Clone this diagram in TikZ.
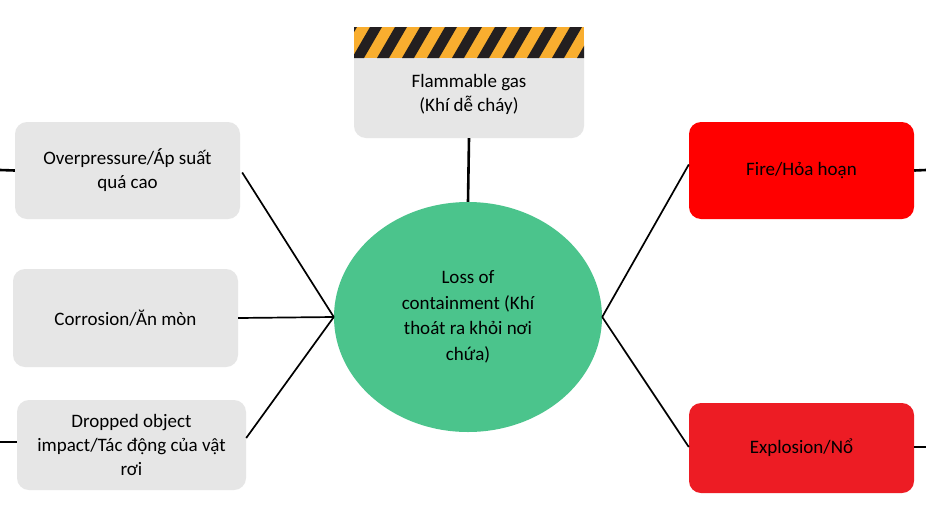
\documentclass[tikz,border=0pt]{standalone}
\usepackage{fontspec}
\setmainfont{Carlito}
\usetikzlibrary{shapes.geometric}
\definecolor{boxgray}{HTML}{E6E6E6}
\definecolor{ellgreen}{HTML}{4BC48C}
\definecolor{firered}{HTML}{FF0000}
\definecolor{exred}{HTML}{ED1C24}
\definecolor{hazorange}{HTML}{F9AE2F}
\definecolor{hazblack}{HTML}{231F20}
\begin{document}
\begin{tikzpicture}[x=1pt,y=-1pt,
  txt/.style={font=\fontsize{19}{24}\selectfont, align=center, text=black},
  graybox/.style={txt, fill=boxgray, rounded corners=12pt, draw=none, inner sep=0pt},
  redbox/.style={txt, rounded corners=12pt, draw=none, inner sep=0pt},
  conn/.style={draw=black, line width=1.7pt},
  thick conn/.style={draw=black, line width=2.6pt}]
\useasboundingbox (0,0) rectangle (926,517);
\fill[white] (0,0) rectangle (926,517);

% nodes
\node[graybox, minimum width=230pt, minimum height=110pt] (flam) at (469,83) {};
\begin{scope}
  \clip (354,27) rectangle (584,58);
  \fill[hazorange] (354,27) rectangle (584,58);
  \foreach \i in {-1,...,10}{
    \fill[hazblack] ({370+\i*25},27) -- ({382+\i*25},27) -- ({364+\i*25},58) -- ({352+\i*25},58) -- cycle;
  }
\end{scope}
\node[txt] (flamtxt) at (469,94) {Flammable gas\\(Khí dễ cháy)};

\node[ellipse, fill=ellgreen, minimum width=268pt, minimum height=230pt, inner sep=0pt] (loss) at (468,317) {};
\node[txt, font=\fontsize{19}{25.5}\selectfont] (losstxt) at (468,317) {Loss of\\containment (Khí\\thoát ra khỏi nơi\\chứa)};

\node[graybox, minimum width=225pt, minimum height=97pt] (over) at (127.5,170.5) {Overpressure/Áp suất\\quá cao};
\node[graybox, minimum width=225pt, minimum height=98pt] (corr) at (125.5,318) {Corrosion/Ăn mòn};
\node[graybox, minimum width=229pt, minimum height=90pt] (drop) at (131.5,445) {Dropped object\\impact/Tác động của vật\\rơi};
\node[redbox, fill=firered, minimum width=225pt, minimum height=97pt] (fire) at (801.5,170.5) {Fire/Hỏa hoạn};
\node[redbox, fill=exred, minimum width=225pt, minimum height=90pt] (expl) at (801.5,448) {Explosion/Nổ};

% stub coordinates
\coordinate (s1) at (0,170);
\coordinate (s2) at (0,442);
\coordinate (s3) at (926,170);
\coordinate (s4) at (926,447);

% connectors
\draw[thick conn] (flam.south) -- (loss.north);
\draw[conn] ([xshift=2pt,yshift=-2pt]over.east) -- (loss.west);
\draw[conn] (corr.east) -- (loss.west);
\draw[conn] ([yshift=7pt]drop.east) -- (loss.west);
\draw[conn] ([yshift=6pt]fire.west) -- (loss.east);
\draw[conn] ([yshift=1pt]expl.west) -- (loss.east);
\draw[thick conn] (s1) -- (over.west);
\draw[thick conn] (s2) -- ([yshift=3pt]drop.west);
\draw[thick conn] (s3) -- (fire.east);
\draw[thick conn] (s4) -- ([yshift=1pt]expl.east);
\end{tikzpicture}
\end{document}
